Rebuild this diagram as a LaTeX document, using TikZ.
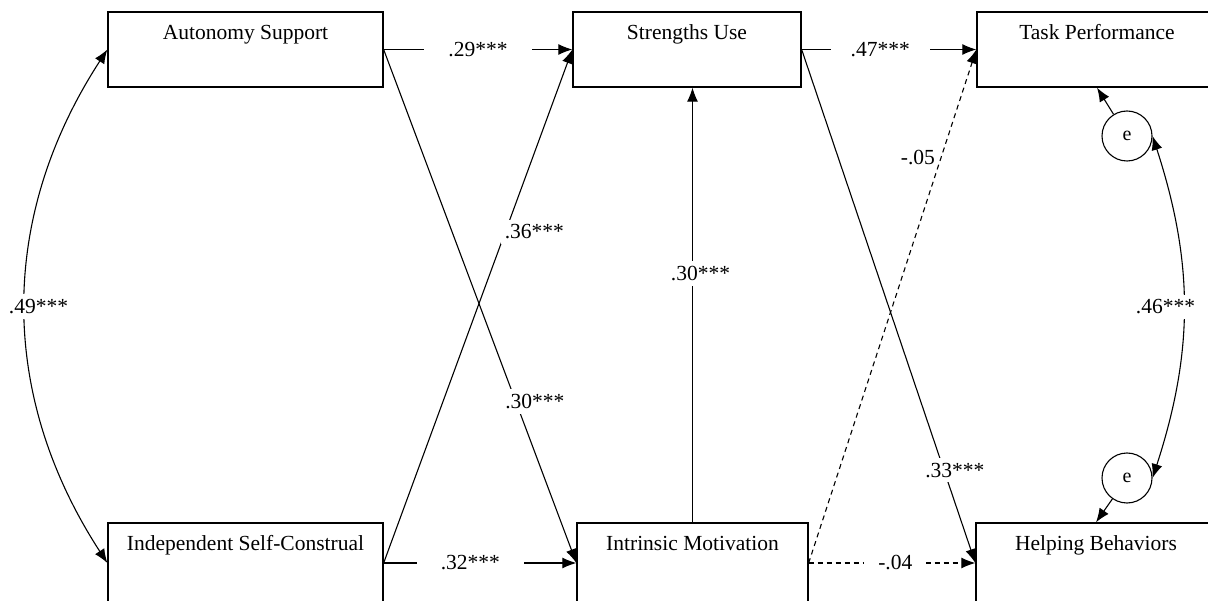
\documentclass[tikz,border=0pt]{standalone}
\usepackage{fontspec}
\setmainfont{Liberation Serif}
\usetikzlibrary{arrows.meta}

\begin{document}
\begin{tikzpicture}[x=1pt,y=-1pt,
  box/.style={draw, line width=1.3pt, inner xsep=0pt, inner ysep=0pt,
    text height=28pt, text depth=47pt, font=\fontsize{21.5}{26}\selectfont},
  lowbox/.style={box, text height=27pt, text depth=53pt},
  err/.style={draw, circle, line width=1.1pt, minimum size=50pt, inner sep=0pt,
    font=\fontsize{20}{24}\selectfont},
  coef/.style={fill=white, inner xsep=4pt, inner ysep=5pt, font=\fontsize{21.5}{26}\selectfont},
  arr/.style={-{Latex[length=14pt,width=11pt]}, line width=1.1pt},
  dsh/.style={arr, dash pattern=on 5pt off 4pt},
  cov/.style={{Latex[length=14pt,width=11pt]}-{Latex[length=14pt,width=11pt]}, line width=1.1pt}]
\useasboundingbox (0,0) rectangle (1208,601);
% variables
\node[box, minimum width=275pt] (auto) at (245.5,49.5) {Autonomy Support};
\node[lowbox, minimum width=275pt] (indep) at (245.5,563) {Independent Self-Construal};
\node[box, minimum width=228pt] (stren) at (687,49.5) {Strengths Use};
\node[lowbox, minimum width=231pt] (intr) at (692.5,563) {Intrinsic Motivation};
\node[box, minimum width=240pt] (task) at (1097,49.5) {Task Performance};
\node[lowbox, minimum width=240pt] (help) at (1096,563) {Helping Behaviors};
% residuals
\node[err] (e1) at (1127,136) {e};
\node[err] (e2) at (1127,478) {e};
% paths
\draw[arr] (auto.east) -- node[coef, inner xsep=24pt] {.29***} (stren.west);
\draw[arr] (stren.east) -- node[coef, pos=0.45, inner xsep=20pt] {.47***} (task.west);
\draw[arr] (auto.east) -- node[coef, pos=0.686, xshift=19pt] {.30***} (intr.west);
\draw[arr] (indep.east) -- node[coef, pos=0.645, xshift=29pt] {.36***} (stren.west);
\draw[arr] (indep.east) -- node[coef, pos=0.45, inner xsep=24pt] {.32***} (intr.west);
\draw[arr] (intr.north) -- node[coef, pos=0.573, xshift=8pt] {.30***} (intr.north |- stren.south);
\draw[arr] (stren.east) -- node[coef, pos=0.819, xshift=11pt] {.33***} (help.west);
\draw[dsh] (intr.east) -- node[coef, fill=none, pos=0.789, xshift=-23pt] {-.05} (task.west);
\draw[dsh] (intr.east) -- node[coef, pos=0.52, inner xsep=14pt] {-.04} (help.west);
\draw[arr] (e1) -- (task.south);
\draw[arr] (e2) -- (help.north);
% covariances
\draw[cov] (auto.west) to[bend right=33] node[coef, xshift=13pt] {.49***} (indep.west);
\draw[cov] (e1.east) to[bend left=18] node[coef, xshift=-18pt] {.46***} (e2.east);
\end{tikzpicture}
\end{document}
